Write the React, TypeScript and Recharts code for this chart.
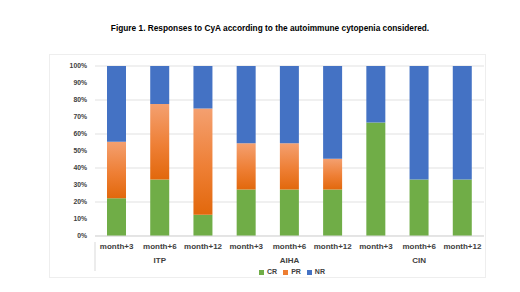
import { Bar, BarChart, CartesianGrid, Legend, XAxis, YAxis } from "recharts";

const months = ["month+3", "month+6", "month+12", "month+3", "month+6", "month+12", "month+3", "month+6", "month+12"];
const groups = ["ITP", "ITP", "ITP", "AIHA", "AIHA", "AIHA", "CIN", "CIN", "CIN"];
const crValues = [22.2, 33.3, 12.5, 27.3, 27.3, 27.3, 66.7, 33.3, 33.3];
const prValues = [33.3, 44.4, 62.5, 27.3, 27.3, 18.2, 0, 0, 0];
const nrValues = [44.5, 22.3, 25, 45.4, 45.4, 54.5, 33.3, 66.7, 66.7];
const yTicks = [0, 10, 20, 30, 40, 50, 60, 70, 80, 90, 100];

const data = months.map((m, i) => ({
  key: `${groups[i]}-${m}`,
  month: m,
  group: groups[i],
  CR: crValues[i],
  PR: prValues[i],
  NR: nrValues[i],
}));

const colors = {
  cr: "#70AD47",
  pr: "#ED7D31",
  nr: "#4472C4",
  text: "#404040",
  grid: "#D9D9D9",
};

const font = "'Liberation Sans', Arial, sans-serif";

function MonthTick(props: any) {
  const { x, y, payload } = props;
  return (
    <text x={x} y={y + 5} textAnchor="middle" fontSize={8} fontWeight="bold" fill={colors.text} fontFamily={font}>
      {months[payload.index] ?? ""}
    </text>
  );
}

function GroupTick(props: any) {
  const { x, y, payload } = props;
  const i = payload.index;
  const step = 43.2;
  return (
    <g>
      {i === 0 && (
        <line x1={x - step / 2} x2={x - step / 2} y1={y - 16} y2={y + 13} stroke="#D9D9D9" />
      )}
      {i % 3 === 1 && (
        <text x={x} y={y + 5} textAnchor="middle" fontSize={8} fontWeight="bold" fill={colors.text} fontFamily={font}>
          {groups[i]}
        </text>
      )}
    </g>
  );
}

function LegendContent() {
  const items = [
    { name: "CR", color: colors.cr },
    { name: "PR", color: colors.pr },
    { name: "NR", color: colors.nr },
  ];
  return (
    <div style={{ display: "flex", justifyContent: "center", gap: 6, fontFamily: font, fontSize: 7, fontWeight: "bold", color: colors.text, lineHeight: "12px", height: 12, paddingLeft: 50 }}>
      {items.map((it) => (
        <span key={it.name} style={{ display: "flex", alignItems: "center", gap: 3 }}>
          <span style={{ width: 5, height: 5, background: it.color, display: "inline-block" }} />
          {it.name}
        </span>
      ))}
    </div>
  );
}

export default function App() {
  return (
    <div style={{ position: "absolute", left: 0, top: 0, width: 520, height: 292, background: "#fff" }}>
      <div
        style={{
          position: "absolute",
          left: 0,
          width: 540,
          top: 23,
          textAlign: "center",
          fontFamily: font,
          fontWeight: "bold",
          fontSize: 8.3,
          color: "#000",
        }}
      >
        Figure 1. Responses to CyA according to the autoimmune cytopenia considered.
      </div>
      <div
        style={{
          position: "absolute",
          left: 49,
          top: 54,
          width: 435,
          height: 222,
          border: "1px solid #EEEEEE",
        }}
      />
      <div style={{ position: "absolute", left: 0, top: 0 }}>
        <BarChart
          width={520}
          height={292}
          data={data}
          barSize={19}
          margin={{ top: 66, right: 36, bottom: 14, left: 50 }}
        >
          <defs>
            <linearGradient id="prGrad" x1="0" y1="0" x2="0" y2="1">
              <stop offset="0%" stopColor="#F4A070" />
              <stop offset="55%" stopColor="#EE7F35" />
              <stop offset="100%" stopColor="#E2680C" />
            </linearGradient>
          </defs>
          <CartesianGrid vertical={false} stroke={colors.grid} strokeWidth={0.8} />
          <XAxis
            dataKey="key"
            xAxisId="a1"
            height={14}
            tickLine={false}
            axisLine={{ stroke: "#D9D9D9" }}
            interval={0}
            tick={<MonthTick />}
          />
          <XAxis
            dataKey="key"
            xAxisId="a2"
            height={16}
            tickLine={false}
            axisLine={false}
            interval={0}
            tick={<GroupTick />}
          />
          <YAxis
            width={45}
            domain={[0, 100]}
            ticks={yTicks}
            allowDataOverflow
            tickLine={false}
            axisLine={false}
            tickFormatter={(v: number) => `${v}%`}
            tick={{ fontSize: 6.8, fontWeight: "bold", fill: colors.text, fontFamily: font }}
          />
          <Legend verticalAlign="bottom" content={<LegendContent />} wrapperStyle={{ height: 12 }} />
          <Bar dataKey="CR" stackId="a" xAxisId="a1" fill={colors.cr} isAnimationActive={false} />
          <Bar dataKey="PR" stackId="a" xAxisId="a1" fill="url(#prGrad)" isAnimationActive={false} />
          <Bar dataKey="NR" stackId="a" xAxisId="a1" fill={colors.nr} isAnimationActive={false} />
        </BarChart>
      </div>
    </div>
  );
}
